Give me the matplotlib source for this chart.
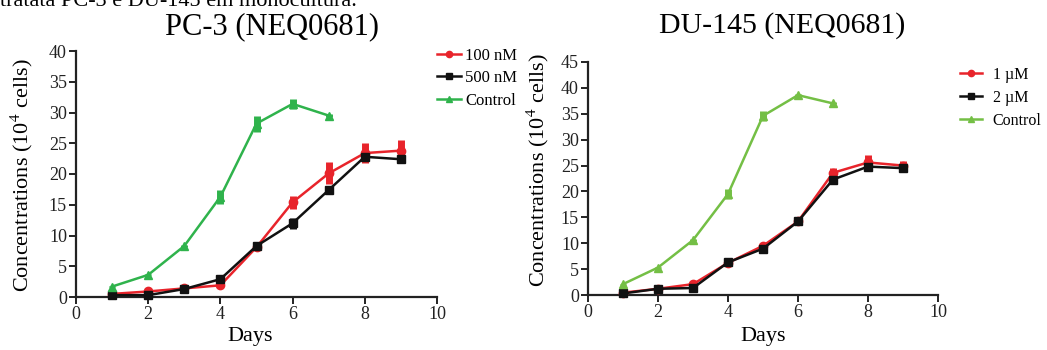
import matplotlib
matplotlib.use("Agg")
import matplotlib.pyplot as plt
import numpy as np

plt.rcParams['font.family'] = ['Liberation Serif', 'DejaVu Serif']
plt.rcParams['mathtext.fontset'] = 'stix'

# ---------------- data ----------------
days_treat = [1, 2, 3, 4, 5, 6, 7, 8, 9]
days_ctrl = [1, 2, 3, 4, 5, 6, 7]

# PC-3
pc3_100nM = [0.5, 0.9, 1.4, 1.9, 8.1, 15.4, 20.1, 23.4, 23.8]
pc3_100nM_err = [0.2, 0.2, 0.2, 0.3, 0.3, 1.1, 1.8, 1.6, 1.8]
pc3_500nM = [0.3, 0.3, 1.3, 2.9, 8.3, 12.0, 17.4, 22.8, 22.4]
pc3_500nM_err = [0.1, 0.1, 0.2, 0.3, 0.3, 0.9, 0.7, 0.3, 0.3]
pc3_ctrl = [1.7, 3.6, 8.3, 16.3, 28.2, 31.4, 29.5]
pc3_ctrl_err = [0.1, 0.1, 0.2, 1.1, 1.3, 0.8, 0.2]

# DU-145
du_1uM = [0.45, 1.2, 2.1, 6.2, 9.5, 14.2, 23.6, 25.6, 25.0]
du_1uM_err = [0.1, 0.1, 0.2, 0.2, 0.3, 0.3, 1.0, 1.5, 0.8]
du_2uM = [0.3, 1.2, 1.35, 6.3, 8.95, 14.2, 22.3, 24.8, 24.5]
du_2uM_err = [0.1, 0.1, 0.1, 0.2, 0.2, 0.2, 0.3, 0.3, 0.3]
du_ctrl = [2.1, 5.3, 10.6, 19.5, 34.6, 38.6, 37.0]
du_ctrl_err = [0.1, 0.1, 0.2, 1.0, 1.0, 0.2, 0.2]

labels_pc3 = ['100 nM', '500 nM', 'Control']
labels_du = ['1 \u00b5M', '2 \u00b5M', 'Control']

RED = '#e8242b'
BLACK = '#111111'
GREEN_PC3 = '#2fb34c'
GREEN_DU = '#74bf45'

W, H = 1047, 350
fig = plt.figure(figsize=(W / 100, H / 100), dpi=100)


def style_axes(ax, ymax, ystep):
    ax.set_xlim(0, 10)
    ax.set_ylim(0, ymax)
    ax.set_xticks(np.arange(0, 11, 2))
    ax.set_yticks(np.arange(0, ymax + 1, ystep))
    for s in ['top', 'right']:
        ax.spines[s].set_visible(False)
    for s in ['left', 'bottom']:
        ax.spines[s].set_linewidth(1.6)
        ax.spines[s].set_color('#222222')
    ax.tick_params(axis='both', direction='out', length=5, width=1.4,
                   labelsize=13, colors='#222222', pad=1.5)


def draw(ax, series):
    handles = []
    for (x, y, e, c, m, lab) in series:
        ax.errorbar(x, y, yerr=e, color=c, elinewidth=5.0, capsize=0,
                    zorder=3, fmt='none', clip_on=False)
        h, = ax.plot(x, y, color=c, marker=m, markersize=6, linewidth=1.8,
                     label=lab, zorder=4, clip_on=False)
        handles.append(h)
    return handles


# ---------------- left: PC-3 ----------------
ax1 = fig.add_axes([76 / W, 1 - 297 / H, (437 - 76) / W, (297 - 51) / H])
style_axes(ax1, 40, 5)
h1 = draw(ax1, [
    (days_treat, pc3_100nM, pc3_100nM_err, RED, 'o', labels_pc3[0]),
    (days_treat, pc3_500nM, pc3_500nM_err, BLACK, 's', labels_pc3[1]),
    (days_ctrl, pc3_ctrl, pc3_ctrl_err, GREEN_PC3, '^', labels_pc3[2]),
])
fig.legend(handles=h1, labels=labels_pc3, loc='upper left',
           bbox_to_anchor=(437 / W, 1 - 48 / H), frameon=False,
           fontsize=12, handlelength=1.45, handletextpad=0.25,
           labelspacing=0.38, borderaxespad=0, borderpad=0,
           markerscale=0.75)

# ---------------- right: DU-145 ----------------
ax2 = fig.add_axes([588 / W, 1 - 295 / H, (938 - 588) / W, (295 - 62) / H])
style_axes(ax2, 45, 5)
h2 = draw(ax2, [
    (days_treat, du_1uM, du_1uM_err, RED, 'o', labels_du[0]),
    (days_treat, du_2uM, du_2uM_err, BLACK, 's', labels_du[1]),
    (days_ctrl, du_ctrl, du_ctrl_err, GREEN_DU, '^', labels_du[2]),
])
fig.legend(handles=h2, labels=labels_du, loc='upper left',
           bbox_to_anchor=(960 / W, 1 - 67 / H), frameon=False,
           fontsize=11.5, handlelength=1.35, handletextpad=0.7,
           labelspacing=0.44, borderaxespad=0, borderpad=0,
           markerscale=0.75)

# ---------------- texts ----------------
fig.text(272 / W, 1 - 27 / H, 'PC-3 (NEQ0681)', ha='center', va='center',
         fontsize=22)
fig.text(782 / W, 1 - 26 / H, 'DU-145 (NEQ0681)', ha='center', va='center',
         fontsize=21.5)
fig.text(250 / W, 1 - 337 / H, 'Days', ha='center', va='center', fontsize=16)
fig.text(763 / W, 1 - 337 / H, 'Days', ha='center', va='center', fontsize=16)
ylab = 'Concentrations (10$^{4}$ cells)'
fig.text(22 / W, 1 - 175 / H, ylab, ha='center', va='center',
         rotation=90, fontsize=16)
fig.text(538 / W, 1 - 170 / H, ylab, ha='center', va='center',
         rotation=90, fontsize=16)

# clipped caption line at the very top
fig.text(357 / W, 1 - 6 / H, 'tratata PC-3 e DU-145 em monocultura.',
         ha='right', va='baseline', fontsize=16)

fig.savefig('out.png', dpi=100)
